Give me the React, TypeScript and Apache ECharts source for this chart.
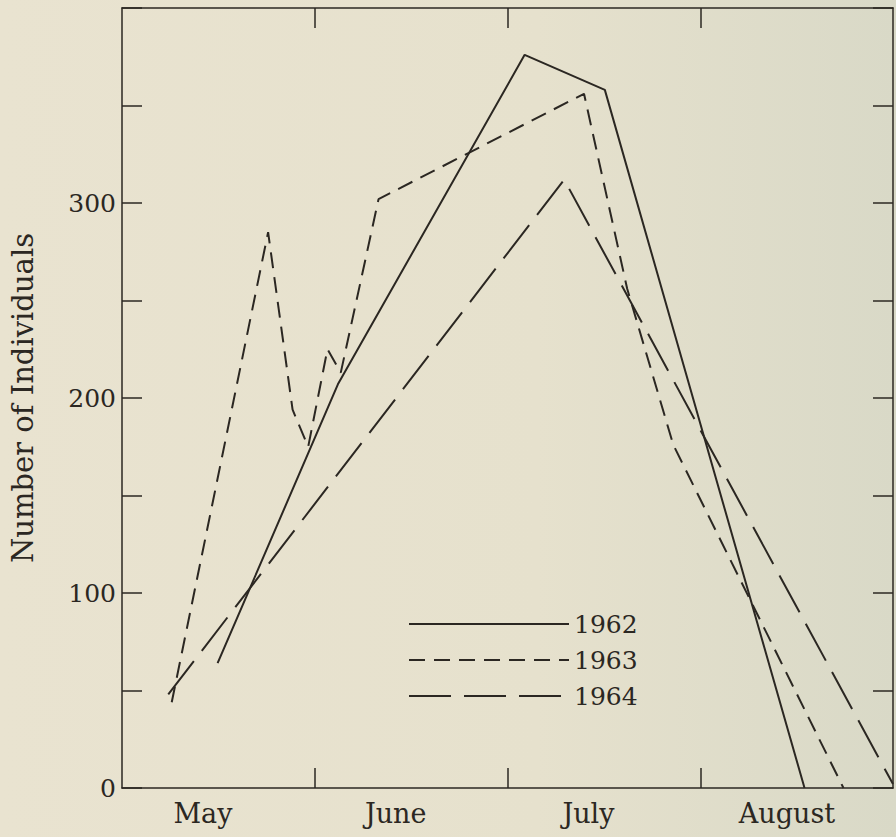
import React, { useEffect, useRef } from 'react';
import * as echarts from 'echarts';

// x unit: 0 = start of May, 1 = June, 2 = July, 3 = August, 4 = end of August
const seriesNames = ['1962', '1963', '1964'];
const data1962: [number, number][] = [[0.496, 64], [1.12, 207], [2.089, 376], [2.505, 358], [3.541, 0]];
const data1963: [number, number][] = [
  [0.258, 44], [0.758, 285], [0.885, 194], [0.966, 175], [1.066, 225], [1.135, 213],
  [1.331, 302], [2.397, 356], [2.621, 256], [2.86, 176], [3.743, 0],
];
const data1964: [number, number][] = [[0.24, 48], [2.294, 312], [4.0, 2]];
const monthLabels = ['May', 'June', 'July', 'August'];
const monthLabelPositions = [0.42, 1.42, 2.42, 3.45];
const monthBoundaries = [1, 2, 3];
const yLabelValues = [0, 100, 200, 300];

const INK = '#2b2722';
const FONT = 'DejaVu Serif';

export default function App() {
  const ref = useRef<HTMLDivElement>(null);
  useEffect(() => {
    if (!ref.current) return;
    const chart = echarts.init(ref.current, null, { renderer: 'svg' });
    const xCommon = {
      type: 'value' as const,
      min: 0,
      max: 4,
      splitLine: { show: false },
      axisLine: { show: true, onZero: false, lineStyle: { color: INK, width: 1.5 } },
      axisTick: { show: true, inside: true, length: 20, customValues: monthBoundaries, lineStyle: { color: INK, width: 1.5 } },
    };
    const yCommon = {
      type: 'value' as const,
      min: 0,
      max: 400,
      interval: 50,
      splitLine: { show: false },
      axisLine: { show: true, onZero: false, lineStyle: { color: INK, width: 1.5 } },
      axisTick: { show: true, inside: true, length: 20, lineStyle: { color: INK, width: 1.5 } },
    };
    chart.setOption({
      animation: false,
      backgroundColor: 'transparent',
      grid: { left: 121, right: 3, top: 8, bottom: 49, containLabel: false },
      legend: {
        orient: 'vertical',
        left: 408,
        top: 606,
        padding: 0,
        itemGap: 0,
        itemWidth: 160,
        itemHeight: 20,
        data: seriesNames,
        selectedMode: false,
        itemStyle: { opacity: 0, borderWidth: 0 },
        lineStyle: { width: 2, opacity: 1 },
        textStyle: { fontFamily: FONT, fontSize: 25, color: INK, lineHeight: 20, padding: [0, 0, 16, 0] },
      },
      xAxis: [
        {
          ...xCommon,
          position: 'bottom',
          axisLabel: {
            show: true,
            customValues: monthLabelPositions,
            margin: 12,
            fontFamily: FONT,
            fontSize: 27,
            color: INK,
            formatter: (v: number) => {
              let best = 0;
              monthLabelPositions.forEach((p, i) => {
                if (Math.abs(p - v) < Math.abs(monthLabelPositions[best] - v)) best = i;
              });
              return monthLabels[best];
            },
          },
        },
        { ...xCommon, position: 'top', axisLabel: { show: false } },
      ],
      yAxis: [
        {
          ...yCommon,
          position: 'left',
          name: 'Number of Individuals',
          nameLocation: 'middle',
          nameGap: 85,
          nameTextStyle: { fontFamily: FONT, fontSize: 29, color: INK },
          axisLabel: {
            show: true,
            margin: 6,
            fontFamily: FONT,
            fontSize: 25,
            color: INK,
            formatter: (v: number) => (yLabelValues.indexOf(v) >= 0 ? String(v) : ''),
          },
        },
        { ...yCommon, position: 'right', axisLabel: { show: false } },
      ],
      series: [
        {
          name: '1962', type: 'line', data: data1962, symbol: 'none',
          lineStyle: { color: INK, width: 2, type: 'solid' }, itemStyle: { color: INK },
        },
        {
          name: '1963', type: 'line', data: data1963, symbol: 'none',
          lineStyle: { color: INK, width: 2, type: [16, 9] }, itemStyle: { color: INK },
        },
        {
          name: '1964', type: 'line', data: data1964, symbol: 'none',
          lineStyle: { color: INK, width: 2, type: [42, 13] }, itemStyle: { color: INK },
        },
      ],
    });
    return () => chart.dispose();
  }, []);
  return (
    <div
      style={{
        position: 'fixed', left: 0, top: 0, width: 896, height: 837,
        background: 'linear-gradient(90deg, #e9e3d0 0%, #e6e1cd 60%, #d9d9c7 100%)',
      }}
    >
      <div ref={ref} style={{ width: 896, height: 837 }} />
    </div>
  );
}
